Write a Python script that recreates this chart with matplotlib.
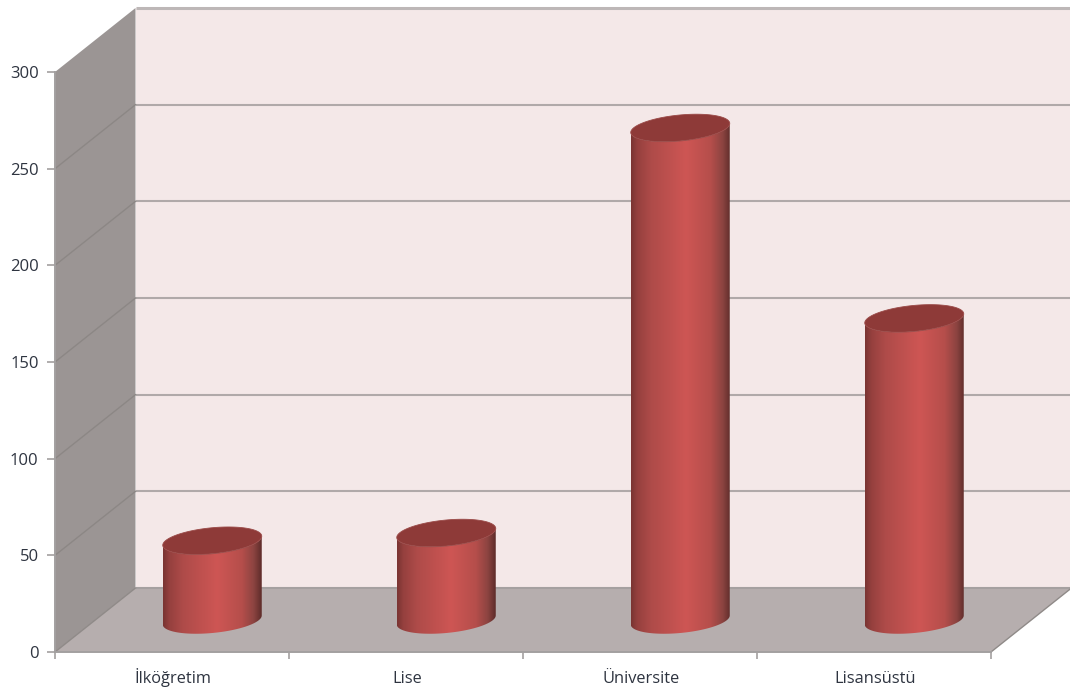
import numpy as np
import matplotlib
matplotlib.use("Agg")
import matplotlib.pyplot as plt
from matplotlib.colors import LinearSegmentedColormap
from matplotlib.patches import Polygon, PathPatch
from matplotlib.path import Path

categories = ["İlköğretim", "Lise", "Üniversite", "Lisansüstü"]
values = [41, 45, 254.5, 156]
y_ticks = [0, 50, 100, 150, 200, 250, 300]

W, H = 1070, 691
L, R, B, T = 55, 991, 652, 72   # front plane, pixels
fig = plt.figure(figsize=(W / 100, H / 100), dpi=100, facecolor="white")
ax = fig.add_axes([L / W, 1 - B / H, (R - L) / W, (B - T) / H])
ax.patch.set_alpha(0)

n = len(categories)
ymax = y_ticks[-1]
px_x = n / (R - L)
px_y = ymax / (B - T)
DX, DY = 80.5 * px_x, 64 * px_y   # depth offset in data units

# walls
ax.add_patch(Polygon([(DX, DY), (n + DX, DY), (n + DX, ymax + DY), (DX, ymax + DY)],
                     fc="#F4E8E8", ec="none", clip_on=False, zorder=1))
ax.add_patch(Polygon([(0, 0), (DX, DY), (DX, ymax + DY), (0, ymax)],
                     fc="#9B9594", ec="none", clip_on=False, zorder=1))
ax.add_patch(Polygon([(0, 0), (n, 0), (n + DX, DY), (DX, DY)],
                     fc="#B6AEAE", ec="none", clip_on=False, zorder=1.5))

# gridlines
for t in y_ticks[1:]:
    lw = 2.2 if t == ymax else 1.5
    c = "#BDB7B7" if t == ymax else "#B0A9A9"
    ax.plot([DX, n + DX], [t + DY, t + DY], color=c, lw=lw, clip_on=False, zorder=1.2,
            solid_capstyle="butt")
    if t != ymax:
        ax.plot([0, DX], [t, t + DY], color="#8C8785", lw=1.0, clip_on=False, zorder=1.2)
ax.plot([DX, n + DX], [DY, DY], color="#A5A0A0", lw=1.5, clip_on=False, zorder=1.6,
        solid_capstyle="butt")
ax.plot([0, DX], [0, DY], color="#8F8A88", lw=1.0, clip_on=False, zorder=1.6)
ax.plot([n, n + DX], [0, DY], color="#8F8A88", lw=1.0, clip_on=False, zorder=1.6)

# cylinders
grad = LinearSegmentedColormap.from_list(
    "cyl", [(0, "#7A3432"), (0.06, "#95403E"), (0.2, "#AE4B49"), (0.55, "#CE5654"),
            (0.8, "#B54E4B"), (0.92, "#8C4441"), (1, "#5F2C2A")])
a = 49.5 * px_x
b = 13.0 * px_y
s = 4.5 * px_y
t_lo = np.linspace(np.pi, 2 * np.pi, 60)
t_all = np.linspace(0, 2 * np.pi, 120)


def ell(cx, cy, t):
    return cx + a * np.cos(t), cy + b * np.sin(t) + s * np.cos(t)


for i, v in enumerate(values):
    cx = i + 0.5 + DX / 2
    y0 = DY / 2
    y1 = y0 + v
    xb, yb = ell(cx, y0, t_lo)
    xt, yt = ell(cx, y1, t_lo[::-1])
    body = np.column_stack([np.r_[xb, xt], np.r_[yb, yt]])
    im = ax.imshow(np.linspace(0, 1, 200)[None, :], cmap=grad, aspect="auto",
                   extent=[cx - a, cx + a, y0 - 20 * px_y, y1 + 20 * px_y],
                   zorder=3, interpolation="bilinear")
    clip = PathPatch(Path(np.r_[body, body[:1]], closed=True), transform=ax.transData,
                     fc="none", ec="none")
    ax.add_patch(clip)
    im.set_clip_path(clip)
    im.set_clip_on(True)
    xe, ye = ell(cx, y1, t_all)
    ax.add_patch(Polygon(np.column_stack([xe, ye]), fc="#8E3A38", ec="#9A4A48", lw=0.6,
                         zorder=4, clip_on=False))

ax.set_xlim(0, n)
ax.set_ylim(0, ymax)

# axes
for sp in ("top", "right"):
    ax.spines[sp].set_visible(False)
for sp in ("left", "bottom"):
    ax.spines[sp].set_color("#A3A0A0")
    ax.spines[sp].set_linewidth(1.4)
    ax.spines[sp].set_zorder(2)
ax.set_yticks(y_ticks)
ax.set_xticks(np.arange(n + 1))
ax.set_xticklabels([])
ax.set_xticks(np.arange(n) + 0.5 + 1.5 * px_x, categories, minor=True, family="Open Sans",
              fontsize=11.8, color="#2E3440", va="baseline")
ax.tick_params(axis="x", which="minor", length=0, pad=22)
ax.tick_params(axis="x", which="major", length=5, width=1.2, color="#A3A0A0")
ax.tick_params(axis="y", length=5.8, width=1.2, color="#A3A0A0", pad=6, labelsize=12,
               labelcolor="#2E3440")
for lab in ax.get_yticklabels():
    lab.set_family("Open Sans")

fig.savefig("out.png", dpi=100, facecolor="white")
